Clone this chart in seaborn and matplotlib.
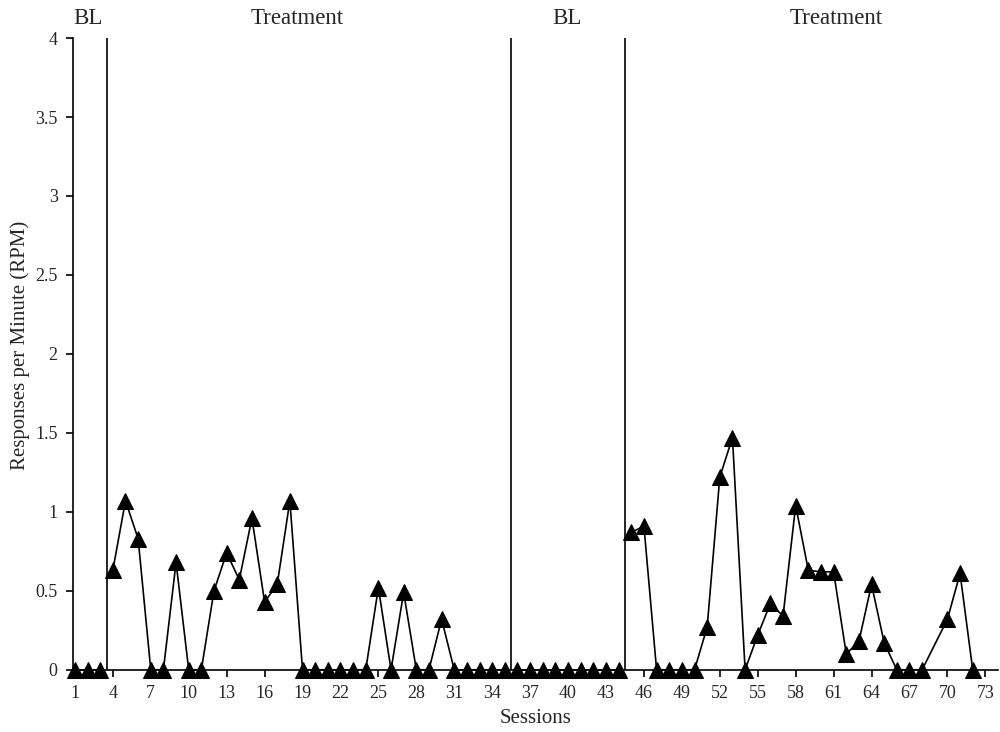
import matplotlib
matplotlib.use("Agg")
import matplotlib.pyplot as plt
import seaborn as sns
import pandas as pd
import numpy as np

# Data
bl1_sessions = [1, 2, 3]
bl1_rpm = [0, 0, 0]
tx1_sessions = list(range(4, 36))
tx1_rpm = [0.63, 1.07, 0.83, 0, 0, 0.68, 0, 0, 0.50, 0.74, 0.57, 0.96, 0.43, 0.54, 1.07,
           0, 0, 0, 0, 0, 0, 0.52, 0, 0.49, 0, 0, 0.32, 0, 0, 0, 0, 0]
bl2_sessions = list(range(36, 45))
bl2_rpm = [0] * 9
tx2_sessions = list(range(45, 69)) + [70, 71, 72]
tx2_rpm = [0.87, 0.91, 0, 0, 0, 0, 0.27, 1.22, 1.47, 0, 0.22, 0.42, 0.34, 1.04, 0.63, 0.62,
           0.62, 0.10, 0.18, 0.54, 0.17, 0, 0, 0, 0.32, 0.61, 0]

phase_labels = ["BL", "Treatment", "BL", "Treatment"]
phase_label_x = [2.0, 18.6, 39.9, 61.2]
phase_change_x = [3.5, 35.5, 44.5]
xticks = list(range(1, 74, 3))
yticks = [0, 0.5, 1, 1.5, 2, 2.5, 3, 3.5, 4]
ytick_labels = ["0", "0.5", "1", "1.5", "2", "2.5", "3", "3.5", "4"]

df = pd.concat([
    pd.DataFrame({"Session": bl1_sessions, "RPM": bl1_rpm, "phase": "p1"}),
    pd.DataFrame({"Session": tx1_sessions, "RPM": tx1_rpm, "phase": "p2"}),
    pd.DataFrame({"Session": bl2_sessions, "RPM": bl2_rpm, "phase": "p3"}),
    pd.DataFrame({"Session": tx2_sessions, "RPM": tx2_rpm, "phase": "p4"}),
], ignore_index=True)

sns.set_style("white")
plt.rcParams["font.family"] = ["Liberation Serif", "DejaVu Serif"]

fig = plt.figure(figsize=(10, 7.32), dpi=100)
ax = fig.add_axes([0.073, 0.085, 0.925, 0.863])

sns.lineplot(data=df, x="Session", y="RPM", units="phase", estimator=None,
             color="black", linewidth=1.2, marker="^", markersize=11,
             markeredgecolor="black", markerfacecolor="black", ax=ax,
             clip_on=False, zorder=5)

for xc in phase_change_x:
    ax.axvline(xc, ymin=0, ymax=1, color="black", linewidth=1.2, zorder=3)

ax.set_xlim(0.85, 74.0)
ax.set_ylim(0, 4)
ax.set_xticks(xticks)
ax.set_xticklabels([str(t) for t in xticks], fontsize=13)
ax.set_yticks(yticks)
ax.set_yticklabels(ytick_labels, fontsize=13)
ax.set_xlabel("Sessions", fontsize=15, labelpad=5)
ax.set_ylabel("Responses per Minute (RPM)", fontsize=15)
ax.yaxis.set_label_coords(-0.046, 0.514)

for s in ["top", "right"]:
    ax.spines[s].set_visible(False)
for s in ["left", "bottom"]:
    ax.spines[s].set_color("black")
    ax.spines[s].set_linewidth(1.2)
ax.tick_params(axis="both", which="both", direction="out", length=5, width=1.2,
               color="black", left=True, bottom=True)
ax.tick_params(axis="x", pad=6)
ax.tick_params(axis="y", pad=6)

for lab, lx in zip(phase_labels, phase_label_x):
    ax.text(lx, 4.06, lab, ha="center", va="bottom", fontsize=16.5)

fig.savefig("out.png", dpi=100)
